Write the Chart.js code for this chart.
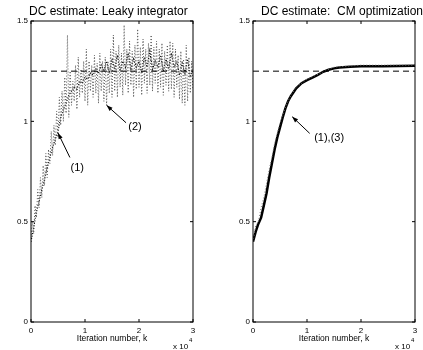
<!DOCTYPE html>
<html>
<head>
<meta charset="utf-8">
<script src="https://cdn.jsdelivr.net/npm/chart.js@4/dist/chart.umd.min.js"></script>
<style>
html, body { margin: 0; padding: 0; background: #fff; width: 423px; height: 350px; overflow: hidden; }
#leaky { position: absolute; left: 0; top: 0; }
#cm { position: absolute; left: 211px; top: 0; }
</style>
</head>
<body>
<canvas id="leaky" width="211" height="350"></canvas>
<canvas id="cm" width="212" height="350"></canvas>
<script>
const FONT = '"Liberation Sans", Arial, Helvetica, sans-serif';

// true DC level (dashed line)
const dcLevel = 1.25;
const kRange = [0, 30000];

// leaky integrator, curve (2): one sample every 250 iterations
const leakyNoisyStep = 250;
const leakyNoisy = [
  0.42, 0.50, 0.44, 0.58, 0.52, 0.66, 0.57, 0.72, 0.62, 0.78,
  0.68, 0.84, 0.72, 0.86, 0.79, 0.95, 0.83, 0.98, 0.88, 1.05,
  0.92, 1.12, 0.98, 1.15, 1.00, 1.22, 1.04, 1.43, 1.02, 1.25,
  1.08, 1.20, 1.10, 1.28, 1.06, 1.32, 1.12, 1.26, 1.14, 1.30,
  1.10, 1.36, 1.08, 1.30, 1.15, 1.28, 1.12, 1.33, 1.14, 1.29,
  1.09, 1.34, 1.15, 1.30, 1.10, 1.32, 1.08, 1.30, 1.14, 1.36,
  1.12, 1.43, 1.15, 1.35, 1.12, 1.38, 1.17, 1.34, 1.13, 1.48,
  1.18, 1.36, 1.14, 1.40, 1.18, 1.35, 1.12, 1.38, 1.16, 1.46,
  1.17, 1.37, 1.13, 1.41, 1.19, 1.36, 1.14, 1.39, 1.18, 1.43,
  1.15, 1.37, 1.19, 1.40, 1.14, 1.36, 1.17, 1.39, 1.13, 1.35,
  1.18, 1.38, 1.15, 1.40, 1.16, 1.39, 1.12, 1.36, 1.17, 1.33,
  1.11, 1.35, 1.09, 1.31, 1.08, 1.38, 1.10, 1.32, 1.14, 1.30,
  1.16
];

// leaky integrator, curve (1): one sample every 500 iterations
const leakySmoothStep = 500;
const leakySmooth = [
  0.40, 0.47, 0.55, 0.60, 0.66, 0.71, 0.77, 0.82, 0.87, 0.91,
  0.95, 1.02, 1.06, 1.09, 1.13, 1.15, 1.17, 1.16, 1.20, 1.19,
  1.22, 1.21, 1.24, 1.23, 1.26, 1.24, 1.28, 1.25, 1.30, 1.24,
  1.31, 1.26, 1.33, 1.25, 1.30, 1.27, 1.34, 1.26, 1.31, 1.27,
  1.30, 1.24, 1.32, 1.27, 1.35, 1.26, 1.30, 1.27, 1.33, 1.25,
  1.31, 1.26, 1.34, 1.27, 1.30, 1.23, 1.29, 1.24, 1.31, 1.22,
  1.26
];

// CM optimization, curves (1),(3)
const cmK = [0, 500, 1000, 1500, 2000, 2500, 3000, 3500, 4000, 4500,
  5000, 5500, 6000, 6500, 7000, 8000, 9000, 10000, 11000, 12000,
  13000, 14000, 15000, 16000, 18000, 20000, 24000, 30000];
const cmVal = [0.40, 0.45, 0.49, 0.52, 0.58, 0.64, 0.72, 0.79, 0.86, 0.92,
  0.97, 1.02, 1.065, 1.10, 1.125, 1.165, 1.19, 1.205, 1.218, 1.232,
  1.247, 1.257, 1.264, 1.268, 1.272, 1.274, 1.275, 1.277];
const cmRawK = [0, 500, 1000, 1500, 2000, 2500, 3000, 3500, 4000, 4500,
  5000, 6000, 7000, 8000, 10000, 15000, 20000, 30000];
const cmRawVal = [0.40, 0.48, 0.50, 0.57, 0.62, 0.69, 0.76, 0.82, 0.89, 0.94,
  0.99, 1.07, 1.13, 1.17, 1.21, 1.27, 1.28, 1.28];

const toPoints = (xs, ys) => ys.map((v, i) => ({ x: xs[i], y: v }));
const stepPoints = (step, ys) => ys.map((v, i) => ({ x: i * step, y: v }));
const dcLine = () => ({
  data: [{ x: kRange[0], y: dcLevel }, { x: kRange[1], y: dcLevel }],
  borderColor: '#000', borderWidth: 1, borderDash: [6, 4], pointRadius: 0
});

// matlab style box, inward ticks, title, arrows and the x 10^4 exponent
const matlabAxes = {
  id: 'matlabAxes',
  afterDatasetsDraw(chart, args, opts) {
    const { ctx, chartArea: a, scales: { x, y } } = chart;
    ctx.save();
    ctx.strokeStyle = '#000';
    ctx.lineWidth = 1;
    ctx.strokeRect(a.left, a.top, a.right - a.left, a.bottom - a.top);
    ctx.beginPath();
    x.ticks.forEach(t => {
      const px = x.getPixelForValue(t.value);
      ctx.moveTo(px, a.bottom); ctx.lineTo(px, a.bottom - 3);
      ctx.moveTo(px, a.top); ctx.lineTo(px, a.top + 3);
    });
    y.ticks.forEach(t => {
      const py = y.getPixelForValue(t.value);
      ctx.moveTo(a.left, py); ctx.lineTo(a.left + 3, py);
      ctx.moveTo(a.right, py); ctx.lineTo(a.right - 3, py);
    });
    ctx.stroke();

    ctx.fillStyle = '#000';
    ctx.textAlign = 'left';
    ctx.textBaseline = 'alphabetic';
    ctx.font = '12px ' + FONT;
    ctx.fillText(opts.title, a.left + opts.titleDx, 15);
    ctx.font = '8px ' + FONT;
    ctx.fillText('x 10', a.right - 20, 349);
    ctx.font = '6px ' + FONT;
    ctx.fillText('4', a.right - 4, 342);

    ctx.font = '11px ' + FONT;
    ctx.textAlign = 'center';
    ctx.textBaseline = 'middle';
    opts.arrows.forEach(ar => {
      const tx = x.getPixelForValue(ar.tip[0]), ty = y.getPixelForValue(ar.tip[1]);
      const fx = x.getPixelForValue(ar.tail[0]), fy = y.getPixelForValue(ar.tail[1]);
      const ang = Math.atan2(ty - fy, tx - fx);
      ctx.beginPath();
      ctx.moveTo(fx, fy); ctx.lineTo(tx, ty);
      ctx.stroke();
      ctx.beginPath();
      ctx.moveTo(tx, ty);
      ctx.lineTo(tx - 6 * Math.cos(ang) + 2.2 * Math.sin(ang), ty - 6 * Math.sin(ang) - 2.2 * Math.cos(ang));
      ctx.lineTo(tx - 6 * Math.cos(ang) - 2.2 * Math.sin(ang), ty - 6 * Math.sin(ang) + 2.2 * Math.cos(ang));
      ctx.closePath();
      ctx.fill();
      ctx.fillText(ar.text, x.getPixelForValue(ar.at[0]), y.getPixelForValue(ar.at[1]));
    });
    ctx.restore();
  }
};

function makeChart(id, datasets, deco, yWidth, padRight) {
  return new Chart(document.getElementById(id), {
    type: 'line',
    data: { datasets },
    options: {
      responsive: false,
      animation: false,
      layout: { padding: { top: 21, right: padRight, left: 0, bottom: 0 } },
      plugins: { legend: { display: false }, tooltip: { enabled: false }, matlabAxes: deco },
      elements: { line: { tension: 0, fill: false }, point: { radius: 0 } },
      scales: {
        x: {
          type: 'linear', min: kRange[0], max: kRange[1],
          grid: { display: false, drawTicks: false }, border: { display: false },
          ticks: { stepSize: 10000, padding: 4, color: '#000', font: { family: FONT, size: 8 },
            maxRotation: 0, callback: v => String(v / 10000) },
          title: { display: true, text: 'Iteration number, k', color: '#000',
            font: { family: FONT, size: 8.5 }, padding: { top: 0, bottom: 6 } },
          afterFit: s => { s.height = 28; }
        },
        y: {
          type: 'linear', min: 0, max: 1.5,
          grid: { display: false, drawTicks: false }, border: { display: false },
          ticks: { stepSize: 0.5, padding: 3, color: '#000', font: { family: FONT, size: 8 },
            callback: v => String(v) },
          afterFit: s => { s.width = yWidth; }
        }
      }
    },
    plugins: [matlabAxes]
  });
}

makeChart('leaky', [
  dcLine(),
  { data: stepPoints(leakyNoisyStep, leakyNoisy), borderColor: '#555', borderWidth: 1, borderDash: [1, 2] },
  { data: stepPoints(leakySmoothStep, leakySmooth), borderColor: '#000', borderWidth: 1.2, borderDash: [1, 1.6] }
], {
  title: 'DC estimate: Leaky integrator', titleDx: -2,
  arrows: [
    { tip: [5000, 0.942], tail: [7200, 0.82], at: [8570, 0.766], text: '(1)' },
    { tip: [14000, 1.08], tail: [17600, 0.993], at: [19260, 0.973], text: '(2)' }
  ]
}, 31, 18);

makeChart('cm', [
  dcLine(),
  { data: toPoints(cmRawK, cmRawVal), borderColor: '#777', borderWidth: 1, borderDash: [1, 2] },
  { data: toPoints(cmK, cmVal), borderColor: '#000', borderWidth: 2.5 }
], {
  title: 'DC estimate:  CM optimization', titleDx: 8,
  arrows: [
    { tip: [7260, 1.023], tail: [10500, 0.94], at: [14100, 0.915], text: '(1),(3)' }
  ]
}, 42, 8);
</script>
</body>
</html>
